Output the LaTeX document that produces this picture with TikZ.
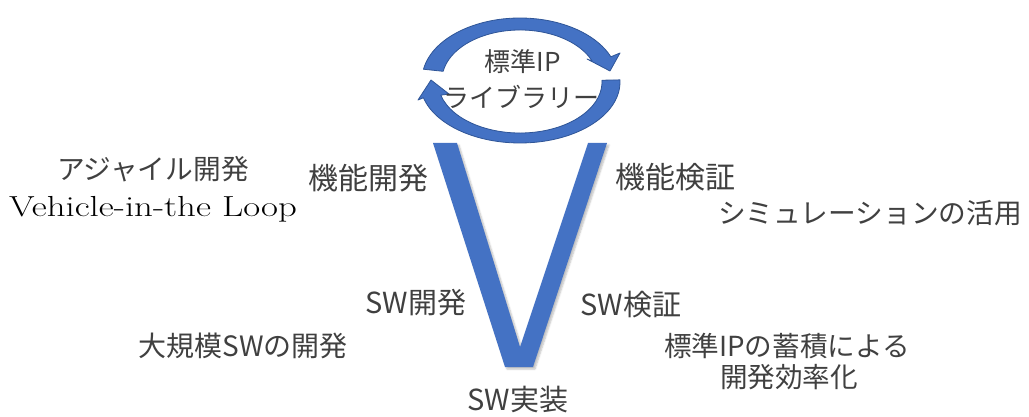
\documentclass[tikz,border=0pt]{standalone}
\usepackage{fontspec}
\usepackage{graphicx}
\newfontfamily\jp{Noto Sans CJK JP}
\usetikzlibrary{calc,shadows.blur}
\definecolor{vblue}{HTML}{4472C4}
\definecolor{vdark}{HTML}{2F5597}
\definecolor{tgray}{HTML}{404040}
\begin{document}
\begin{tikzpicture}[x=1pt,y=-1pt,
  lbl/.style={inner sep=0pt, text=tgray, font=\jp\fontsize{#1}{#1}\selectfont},
  lbl/.default=27,
  vshape/.style={fill=vblue, blur shadow={shadow xshift=2pt, shadow yshift=-2pt, shadow opacity=25, shadow blur steps=5}},
  carrow/.style={fill=vblue, draw=vdark, line width=0.8pt, line join=round}]
\useasboundingbox (0,0) rectangle (1029,417);
% V shape
\path[vshape] (433,143) -- (457,143) -- (520,347) -- (588,143) -- (607,143) -- (533,367) -- (505,367) -- cycle;
% top circular arrow
\coordinate (ct) at (520,80);
\filldraw[carrow] (ct) ++(190:98 and 62) arc[start angle=190, end angle=338, x radius=98, y radius=62]
  -- (620,53) -- (610,71) -- (587,59) -- ($(ct)+(338:78 and 50)$)
  arc[start angle=338, end angle=190, x radius=78, y radius=50] -- cycle;
% bottom circular arrow
\coordinate (cb) at (520,82);
\filldraw[carrow] (cb) ++(-2:100 and 61) arc[start angle=-2, end angle=165, x radius=100, y radius=61]
  -- (418,100) -- (431,80) -- (449,94) -- ($(cb)+(165:82 and 51)$)
  arc[start angle=165, end angle=-2, x radius=82, y radius=51] -- cycle;
% labels
\node[lbl=26] (ip1) at (523,62) {標準IP};
\node[lbl=26] (ip2) at (521,97) {ライブラリー};
\node[lbl=30] (kk) at (368,178) {機能開発};
\node[lbl=30] (kv) at (675,177) {機能検証};
\node[lbl=27.7] (ag) at (153,169) {アジャイル開発};
\node[inner sep=0pt, font=\fontsize{29}{29}\selectfont] (vil) at (153,209) {\scalebox{1.27}[1]{Vehicle-in-the Loop}};
\node[lbl=27.7] (sim) at (870,213) {シミュレーションの活用};
\node[lbl=29] (swd) at (416,303) {SW開発};
\node[lbl=29] (swv) at (631,305) {SW検証};
\node[lbl=28] (big) at (243,346) {大規模SWの開発};
\node[lbl=27.6] (st1) at (787,346) {標準IPの蓄積による};
\node[lbl=27.6] (st2) at (789,377) {開発効率化};
\node[lbl=29] (swi) at (518,400) {SW実装};
\end{tikzpicture}
\end{document}
